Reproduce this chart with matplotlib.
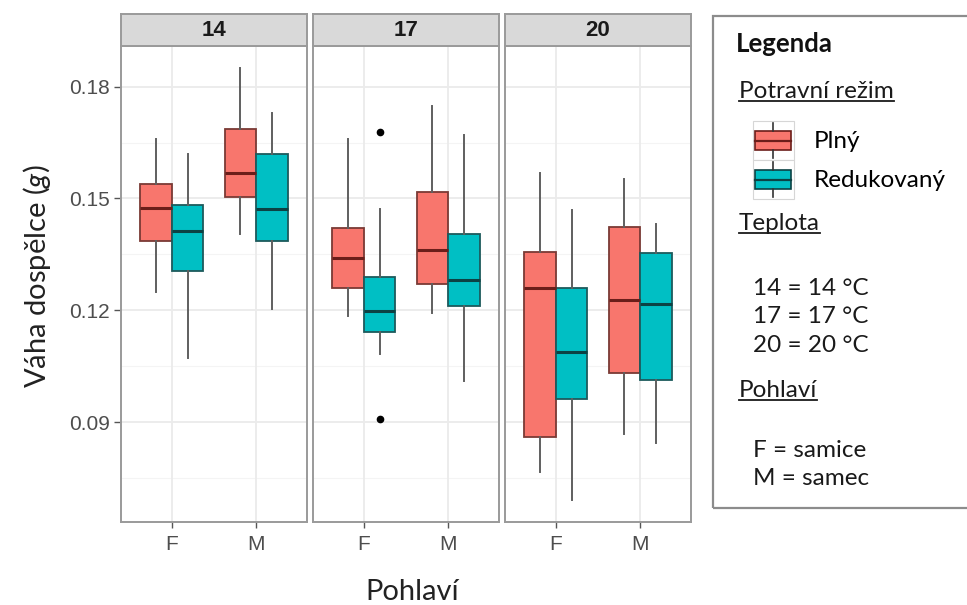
import matplotlib
matplotlib.use("Agg")
import matplotlib.pyplot as plt
from matplotlib.patches import Rectangle, Patch
from matplotlib.lines import Line2D
from matplotlib.legend_handler import HandlerBase

# groups in order: 14F, 14M, 17F, 17M, 20F, 20M
temps = ["14", "17", "20"]
sexes = ["F", "M"]

plny_low = [0.1248, 0.1405, 0.1184, 0.1192, 0.0766, 0.0868]
plny_q1 = [0.1386, 0.1505, 0.1259, 0.1270, 0.0860, 0.1033]
plny_med = [0.1475, 0.1569, 0.1341, 0.1362, 0.1260, 0.1227]
plny_q3 = [0.1540, 0.1687, 0.1421, 0.1518, 0.1357, 0.1424]
plny_high = [0.1660, 0.1851, 0.1660, 0.1749, 0.1569, 0.1553]
plny_out = [[], [], [], [], [], []]

red_low = [0.1071, 0.1203, 0.1082, 0.1009, 0.0690, 0.0844]
red_q1 = [0.1306, 0.1386, 0.1141, 0.1211, 0.0961, 0.1012]
red_med = [0.1413, 0.1472, 0.1197, 0.1280, 0.1087, 0.1216]
red_q3 = [0.1483, 0.1620, 0.1290, 0.1405, 0.1260, 0.1353]
red_high = [0.1620, 0.1730, 0.1472, 0.1671, 0.1470, 0.1432]
red_out = [[], [], [0.1679, 0.0908], [], [], []]

y_ticks = [0.09, 0.12, 0.15, 0.18]
y_minor = [0.075, 0.105, 0.135, 0.165]

diet_labels = ["Plný", "Redukovaný"]
plny_color = "#F8766D"
red_color = "#00BFC4"

plt.rcParams["mathtext.fontset"] = "custom"
plt.rcParams["mathtext.rm"] = "Lato"
plt.rcParams["mathtext.it"] = "Lato:italic"

W, H = 967, 605
fig = plt.figure(figsize=(W / 100, H / 100), dpi=100)


def fx(px):
    return px / W


def fy(py):
    return 1 - py / H


def make_stats(low, q1, med, q3, high, out, i):
    return dict(whislo=low[i], q1=q1[i], med=med[i], q3=q3[i], whishi=high[i], fliers=out[i])


all_vals = plny_low + plny_high + red_low + red_high + sum(red_out, [])
span = max(all_vals) - min(all_vals)
ylim = (min(all_vals) - 0.05 * span, max(all_vals) + 0.05 * span)

panel_left = [121, 313, 505]
panel_w = 186
top, bottom = 46, 522
strip_top = 14

tick_font = dict(family="Liberation Sans", size=15, color="#4D4D4D")

for k, t in enumerate(temps):
    ax = fig.add_axes([fx(panel_left[k]), fy(bottom), fx(panel_w), (bottom - top) / H])
    ax.set_facecolor("white")
    ax.set_xlim(0.4, 2.6)
    ax.set_ylim(*ylim)
    for y in y_ticks:
        ax.axhline(y, color="#EBEBEB", lw=1.3, zorder=0)
    for y in y_minor:
        ax.axhline(y, color="#F4F4F4", lw=0.8, zorder=0)
    for x in [1, 2]:
        ax.axvline(x, color="#EBEBEB", lw=1.3, zorder=0)

    for diet, (vals, col, edge, medc, off) in enumerate([
        ((plny_low, plny_q1, plny_med, plny_q3, plny_high, plny_out), plny_color, "#7a3a35", "#6b1e1a", -0.1875),
        ((red_low, red_q1, red_med, red_q3, red_high, red_out), red_color, "#1d5a5c", "#0c4244", 0.1875),
    ]):
        stats = [make_stats(*vals, 2 * k + s) for s in range(2)]
        ax.bxp(stats, positions=[1 + off, 2 + off], widths=0.375, patch_artist=True,
               showcaps=False, manage_ticks=False,
               boxprops=dict(facecolor=col, edgecolor=edge, linewidth=1.3),
               medianprops=dict(color=medc, linewidth=2.2),
               whiskerprops=dict(color="#5f5f5f", linewidth=1.4),
               flierprops=dict(marker="o", markersize=4.5, markerfacecolor="black",
                               markeredgecolor="black"))

    ax.set_xticks([1, 2])
    ax.set_xticklabels(sexes, fontdict=tick_font)
    ax.set_yticks(y_ticks)
    if k == 0:
        ax.set_yticklabels(["%.2f" % v for v in y_ticks], fontdict=tick_font)
        ax.tick_params(axis="y", length=5, width=1, color="#555555", pad=3)
    else:
        ax.set_yticklabels([])
        ax.tick_params(axis="y", length=0)
    ax.tick_params(axis="x", length=4, width=1, color="#555555", pad=5)
    for sp in ax.spines.values():
        sp.set_color("#9a9a9a")
        sp.set_linewidth(1.4)

    sax = fig.add_axes([fx(panel_left[k]), fy(top), fx(panel_w), (top - strip_top) / H])
    sax.set_facecolor("#D9D9D9")
    sax.set_xticks([])
    sax.set_yticks([])
    for sp in sax.spines.values():
        sp.set_color("#9a9a9a")
        sp.set_linewidth(1.4)
    sax.text(0.5, 0.5, t, ha="center", va="center", transform=sax.transAxes,
             family="Liberation Sans", fontweight="bold", size=16, color="#1a1a1a")

# axis titles
fig.text(fx(412), fy(600), "Pohlaví", ha="center", va="baseline", family="Lato", size=21, color="#222222")
fig.text(fx(37), fy(276), r"Váha dospělce ($\mathit{g}$)", ha="center", va="center", rotation=90,
         family="Lato", size=21, color="#222222")

# legend panel
fig.add_artist(Rectangle((fx(713), fy(508)), fx(270), (508 - 16) / H, transform=fig.transFigure,
                         fill=False, edgecolor="#8c8c8c", linewidth=1.6))

leg_font = dict(family="Lato", size=17.5, color="#1a1a1a")
headings = []
fig.text(fx(736), fy(52), "Legenda", va="baseline", family="Lato", fontweight="bold", size=18.5,
         color="#111111")
for label, base in [("Potravní režim", 98), ("Teplota", 230), ("Pohlaví", 397)]:
    headings.append(fig.text(fx(739), fy(base), label, va="baseline", **leg_font))
for label, base in [("14 = 14 °C", 295), ("17 = 17 °C", 323), ("20 = 20 °C", 352),
                    ("F = samice", 457), ("M = samec", 485)]:
    fig.text(fx(753), fy(base), label, va="baseline", **leg_font)


class BoxKey(HandlerBase):
    def create_artists(self, legend, orig_handle, xdescent, ydescent, width, height, fontsize, trans):
        x0, y0 = -xdescent, -ydescent
        fc = orig_handle.get_facecolor()
        ec = orig_handle.get_edgecolor()
        cell = Rectangle((x0, y0), width, height, facecolor="white", edgecolor="#d6d6d6",
                         linewidth=0.8, transform=trans)
        box = Rectangle((x0 + 0.06 * width, y0 + 0.25 * height), 0.86 * width, 0.5 * height,
                        facecolor=fc, edgecolor=ec, linewidth=1.2, transform=trans)
        med = Line2D([x0 + 0.06 * width, x0 + 0.92 * width], [y0 + 0.5 * height] * 2,
                     color=ec, linewidth=1.6, transform=trans)
        w1 = Line2D([x0 + 0.49 * width] * 2, [y0 + 0.06 * height, y0 + 0.25 * height],
                    color="#333333", linewidth=1.2, transform=trans)
        w2 = Line2D([x0 + 0.49 * width] * 2, [y0 + 0.75 * height, y0 + 0.94 * height],
                    color="#333333", linewidth=1.2, transform=trans)
        return [cell, box, med, w1, w2]


handles = [Patch(facecolor=plny_color, edgecolor="#6b1e1a"), Patch(facecolor=red_color, edgecolor="#0c4244")]
fig.legend(handles=handles, labels=diet_labels, handler_map={Patch: BoxKey()},
           loc="upper left", bbox_to_anchor=(fx(753), fy(121)), frameon=False,
           borderpad=0, borderaxespad=0, handlelength=1.7, handleheight=2.1,
           handletextpad=0.8, labelspacing=0.0, prop=dict(family="Lato", size=17.5))

# underline the legend headings
fig.canvas.draw()
renderer = fig.canvas.get_renderer()
for h in headings:
    bb = h.get_window_extent(renderer)
    base_px = h.get_position()[1] * H
    fig.add_artist(Line2D([bb.x0 / W, bb.x1 / W], [(base_px - 3) / H] * 2, transform=fig.transFigure,
                          color="#1a1a1a", linewidth=1.3))

fig.savefig("out.png", dpi=100)
